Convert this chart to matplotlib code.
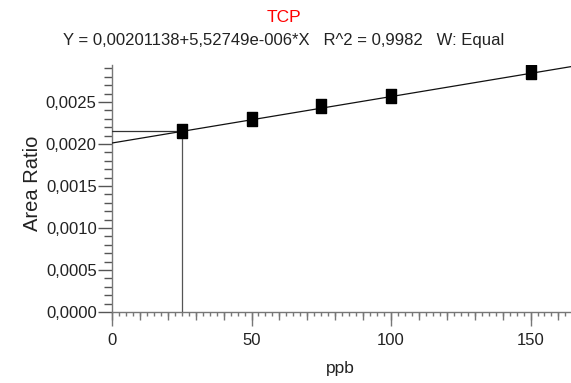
import matplotlib
matplotlib.use("Agg")
import matplotlib.pyplot as plt
from matplotlib.ticker import MultipleLocator, FuncFormatter
import numpy as np

plt.rcParams['font.family'] = ['Liberation Sans', 'DejaVu Sans']

# data
conc = [25, 50, 75, 100, 150]
area_ratio = [0.002155, 0.002295, 0.002454, 0.002567, 0.002855]
intercept = 0.00201138
slope = 5.52749e-06
unknown_x = 25
unknown_y = 0.002155
title = "TCP"
subtitle = "Y = 0,00201138+5,52749e-006*X   R^2 = 0,9982   W: Equal"

W, H = 571, 383
fig = plt.figure(figsize=(W / 100, H / 100), dpi=100)
ax = fig.add_axes([112 / W, 1 - 312 / H, 1 - 112 / W, (312 - 65) / H])
xmax = 164.5
ax.set_xlim(0, xmax)
ax.set_ylim(0, 0.00294)

# regression line
xs = np.array([0, xmax])
ax.plot(xs, intercept + slope * xs, color='#111111', lw=0.9, zorder=3)
# unknown sample guide lines
ax.plot([0, unknown_x], [unknown_y, unknown_y], color='#333333', lw=0.9, zorder=3)
ax.plot([unknown_x, unknown_x], [0, unknown_y], color='#555555', lw=0.9, zorder=3)
# points
rect = [(-0.37, -0.5), (0.37, -0.5), (0.37, 0.5), (-0.37, 0.5), (-0.37, -0.5)]
ax.plot(conc, area_ratio, linestyle='none', marker=rect, markersize=9.5,
        color='black', zorder=4)

for s in ['top', 'right']:
    ax.spines[s].set_visible(False)
for s in ['left', 'bottom']:
    ax.spines[s].set_color('#777777')
    ax.spines[s].set_linewidth(1.0)

ax.yaxis.set_major_locator(MultipleLocator(0.0005))
ax.yaxis.set_minor_locator(MultipleLocator(0.0001))
ax.yaxis.set_major_formatter(FuncFormatter(lambda v, p: f"{v:.4f}".replace('.', ',')))
ax.xaxis.set_major_locator(MultipleLocator(50))
ax.xaxis.set_minor_locator(MultipleLocator(2.5))
ax.tick_params(axis='y', which='major', length=10, width=1, color='#555555',
               labelsize=12, labelcolor='#222222', pad=1)
ax.tick_params(axis='y', which='minor', length=6, width=1, color='#555555')
ax.tick_params(axis='x', which='major', length=10, width=1, color='#777777',
               labelsize=12, labelcolor='#222222', pad=5)
ax.tick_params(axis='x', which='minor', length=3, width=1, color='#777777')

sec = ax.secondary_xaxis(0)
sec.spines['bottom'].set_visible(False)
sec.xaxis.set_major_locator(MultipleLocator(10))
sec.tick_params(axis='x', length=6, width=1, color='#777777', labelbottom=False)

ax.set_xlabel('ppb', fontsize=12.5, color='#222222')
ax.set_ylabel('Area Ratio', fontsize=14.5, color='#222222')
ax.xaxis.set_label_coords((340 - 112) / 459, -(368 - 312) / 247)
ax.yaxis.set_label_coords((33 - 112) / 459, (312 - 183) / 247)
ax.xaxis.label.set_va('center')
ax.yaxis.label.set_va('center')

fig.text(284 / W, 1 - 17 / H, title, color='red', fontsize=12.5, ha='center', va='center')
fig.text(284 / W, 1 - 40 / H, subtitle, color='#222222', fontsize=12, ha='center', va='center')

fig.savefig('out.png', dpi=100)
